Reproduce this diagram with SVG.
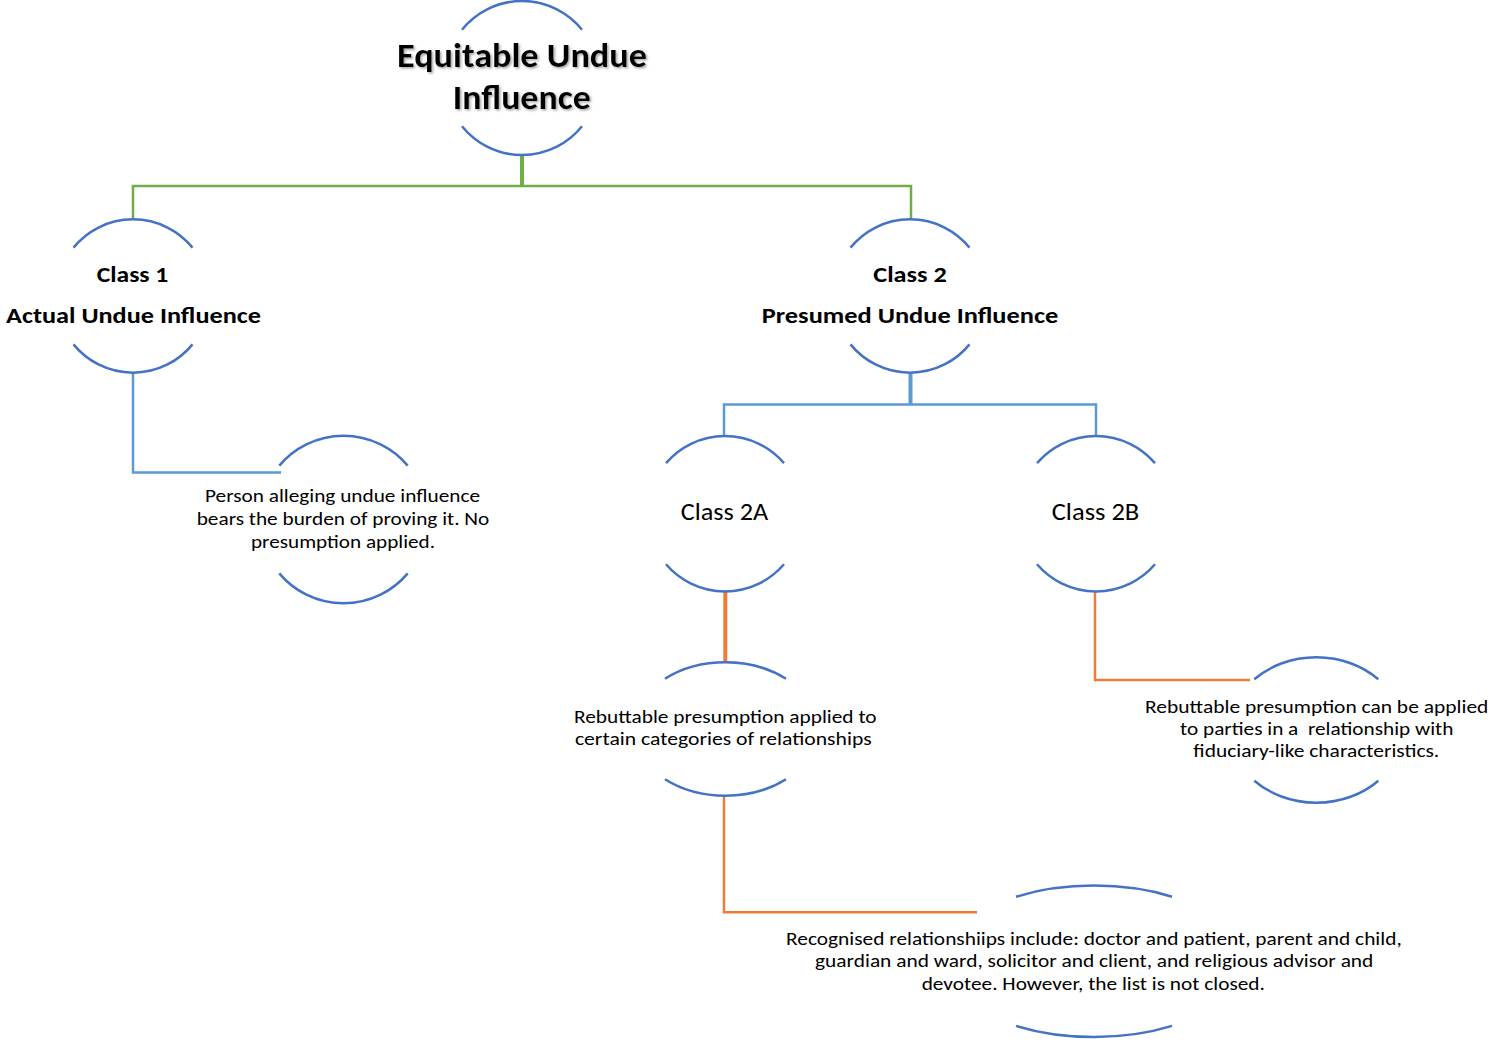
<svg xmlns="http://www.w3.org/2000/svg" width="1490" height="1043" viewBox="0 0 1490 1043">
<defs>
<filter id="shadow" x="-10%" y="-20%" width="120%" height="150%">
<feDropShadow dx="1.5" dy="1.5" stdDeviation="1" flood-color="#7f7f7f" flood-opacity="0.7"/>
</filter>
</defs>
<style>
.arc{fill:none;stroke:#4472C4;stroke-width:2.5}
.t{font-family:Carlito,Calibri,Lato,"Liberation Sans",sans-serif;fill:#000;text-anchor:middle}
.b{font-weight:bold}
.root{font-size:34px;filter:url(#shadow)}
.cls{font-size:23px}
.mid{font-size:25px}
.sm{font-size:18.5px}
.g{fill:none;stroke:#70AD47;stroke-width:2.5}
.bl{fill:none;stroke:#5B9BD5;stroke-width:2.5}
.o{fill:none;stroke:#ED7D31;stroke-width:2.5}
.thick{stroke-width:4}
</style>
<rect width="1490" height="1043" fill="#fff"/>
<g id="connectors">
<path class="g thick" d="M522,155 V187"/>
<path class="g" d="M133,219 V186 H911 V219"/>
<path class="bl" d="M133,373 V472.5 H281"/>
<path class="bl thick" d="M910.5,373 V404"/>
<path class="bl" d="M724,436 V404.5 H1096 V436"/>
<path class="o thick" d="M725.3,591 V662"/>
<path class="o" d="M1095,591 V680 H1250"/>
<path class="o" d="M724,796 V912.3 H977"/>
</g>
<g id="root">
<path class="arc" d="M462,29.7 A77,77 0 0 1 582,29.7"/>
<path class="arc" d="M462,126.3 A77,77 0 0 0 582,126.3"/>
<text class="t b root" x="522" y="67" textLength="250" lengthAdjust="spacingAndGlyphs">Equitable Undue</text>
<text class="t b root" x="521.7" y="109" textLength="138" lengthAdjust="spacingAndGlyphs">Influence</text>
</g>
<g id="class1">
<path class="arc" d="M73.5,247.6 A76.7,76.7 0 0 1 192.5,247.6"/>
<path class="arc" d="M73.5,344.4 A76.7,76.7 0 0 0 192.5,344.4"/>
<text class="t b cls" x="132.5" y="281.7" textLength="71.6" lengthAdjust="spacingAndGlyphs">Class 1</text>
<text class="t b cls" x="133.5" y="323.3" textLength="255" lengthAdjust="spacingAndGlyphs">Actual Undue Influence</text>
</g>
<g id="class2">
<path class="arc" d="M850.5,247.6 A76.7,76.7 0 0 1 969.5,247.6"/>
<path class="arc" d="M850.5,344.4 A76.7,76.7 0 0 0 969.5,344.4"/>
<text class="t b cls" x="910" y="281.7" textLength="73.4" lengthAdjust="spacingAndGlyphs">Class 2</text>
<text class="t b cls" x="910" y="323.3" textLength="296.6" lengthAdjust="spacingAndGlyphs">Presumed Undue Influence</text>
</g>
<g id="actual-detail">
<path class="arc" d="M279.3,465.6 A83.8,83.8 0 0 1 407.7,465.6"/>
<path class="arc" d="M279.3,573.4 A83.8,83.8 0 0 0 407.7,573.4"/>
<text class="t sm" x="342.5" y="501.7" textLength="275" lengthAdjust="spacingAndGlyphs">Person alleging undue influence</text>
<text class="t sm" x="343" y="525" textLength="292.6" lengthAdjust="spacingAndGlyphs">bears the burden of proving it. No</text>
<text class="t sm" x="343" y="548.3" textLength="184" lengthAdjust="spacingAndGlyphs">presumption applied.</text>
</g>
<g id="class2a">
<path class="arc" d="M666,463.1 A77.7,77.7 0 0 1 784,463.1"/>
<path class="arc" d="M666,564.3 A77.7,77.7 0 0 0 784,564.3"/>
<text class="t mid" x="724.5" y="520" textLength="87.6" lengthAdjust="spacingAndGlyphs">Class 2A</text>
</g>
<g id="class2b">
<path class="arc" d="M1037,463.1 A77.7,77.7 0 0 1 1155,463.1"/>
<path class="arc" d="M1037,564.3 A77.7,77.7 0 0 0 1155,564.3"/>
<text class="t mid" x="1095.5" y="520" textLength="87.6" lengthAdjust="spacingAndGlyphs">Class 2B</text>
</g>
<g id="class2a-detail">
<path class="arc" d="M665,678.8 A92,66.7 0 0 1 786,678.8"/>
<path class="arc" d="M665,779.2 A92,66.7 0 0 0 786,779.2"/>
<text class="t sm" x="725.3" y="722.7" textLength="302.7" lengthAdjust="spacingAndGlyphs">Rebuttable presumption applied to</text>
<text class="t sm" x="723.3" y="745" textLength="296.7" lengthAdjust="spacingAndGlyphs">certain categories of relationships</text>
</g>
<g id="class2b-detail">
<path class="arc" d="M1254.3,679.3 A86.5,72.7 0 0 1 1378.3,679.3"/>
<path class="arc" d="M1254.3,780.7 A86.5,72.7 0 0 0 1378.3,780.7"/>
<text class="t sm" x="1316.7" y="712.7" textLength="343.3" lengthAdjust="spacingAndGlyphs">Rebuttable presumption can be applied</text>
<text class="t sm" x="1316.7" y="735" textLength="273.3" lengthAdjust="spacingAndGlyphs" xml:space="preserve">to parties in a  relationship with</text>
<text class="t sm" x="1316.3" y="756.7" textLength="246" lengthAdjust="spacingAndGlyphs">fiduciary-like characteristics.</text>
</g>
<g id="recognised">
<path class="arc" d="M1016,896.7 A149.5,75.7 0 0 1 1172,896.7"/>
<path class="arc" d="M1016,1025.9 A149.5,75.7 0 0 0 1172,1025.9"/>
<text class="t sm" x="1093.9" y="945" textLength="615.7" lengthAdjust="spacingAndGlyphs">Recognised relationshiips include: doctor and patient, parent and child,</text>
<text class="t sm" x="1094.2" y="967.3" textLength="558.3" lengthAdjust="spacingAndGlyphs">guardian and ward, solicitor and client, and religious advisor and</text>
<text class="t sm" x="1093.3" y="990" textLength="343.3" lengthAdjust="spacingAndGlyphs">devotee. However, the list is not closed.</text>
</g>
</svg>
